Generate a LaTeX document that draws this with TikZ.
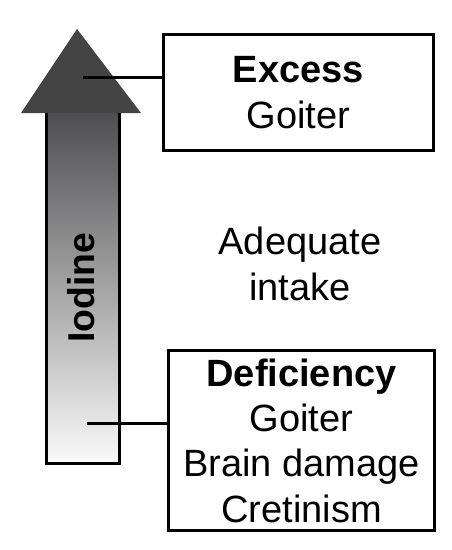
\documentclass[tikz,border=0pt]{standalone}
\usepackage{fontspec}
\setmainfont{Liberation Sans}
\definecolor{shafttop}{RGB}{78,78,80}
\definecolor{shaftbot}{RGB}{250,250,250}
\definecolor{headgray}{RGB}{68,68,68}
\begin{document}
\begin{tikzpicture}[x=0.75pt,y=-0.75pt,
  lbl/.style={font=\fontsize{28.5}{34}\selectfont, align=center, inner sep=0pt},
  infobox/.style={draw=black, line width=2.25pt, fill=white, lbl},
  link/.style={draw=black, line width=2.25pt}]
\useasboundingbox (0,0) rectangle (452,550);
% shaft
\shade[top color=shafttop, bottom color=shaftbot]
  (46.5,112) rectangle (119.5,463.5);
\draw[line width=2.25pt, line join=miter] (46.5,112) -- (46.5,463.5) -- (119.5,463.5) -- (119.5,112);
% head
\fill[headgray] (21,113) -- (77,29) -- (141,113) -- cycle;
\node[lbl, font=\fontsize{28}{34}\selectfont\bfseries, rotate=90] (iod) at (81,288) {Iodine};
% boxes
\node[infobox, minimum width=202.5pt, minimum height=87pt] (excess) at (298.5,92.5)
  {\textbf{Excess}\\Goiter};
\node[infobox, minimum width=199.5pt, minimum height=135pt] (defic) at (301.5,440.5)
  {\textbf{Deficiency}\\Goiter\\Brain damage\\Cretinism};
\node[lbl] (adeq) at (300,264) {Adequate\\intake};
% connectors
\coordinate (ehead) at (83,77);
\coordinate (dtail) at (87,423);
\draw[link] (ehead) -- (ehead -| excess.west);
\draw[link] (dtail) -- (dtail -| defic.west);
\end{tikzpicture}
\end{document}
